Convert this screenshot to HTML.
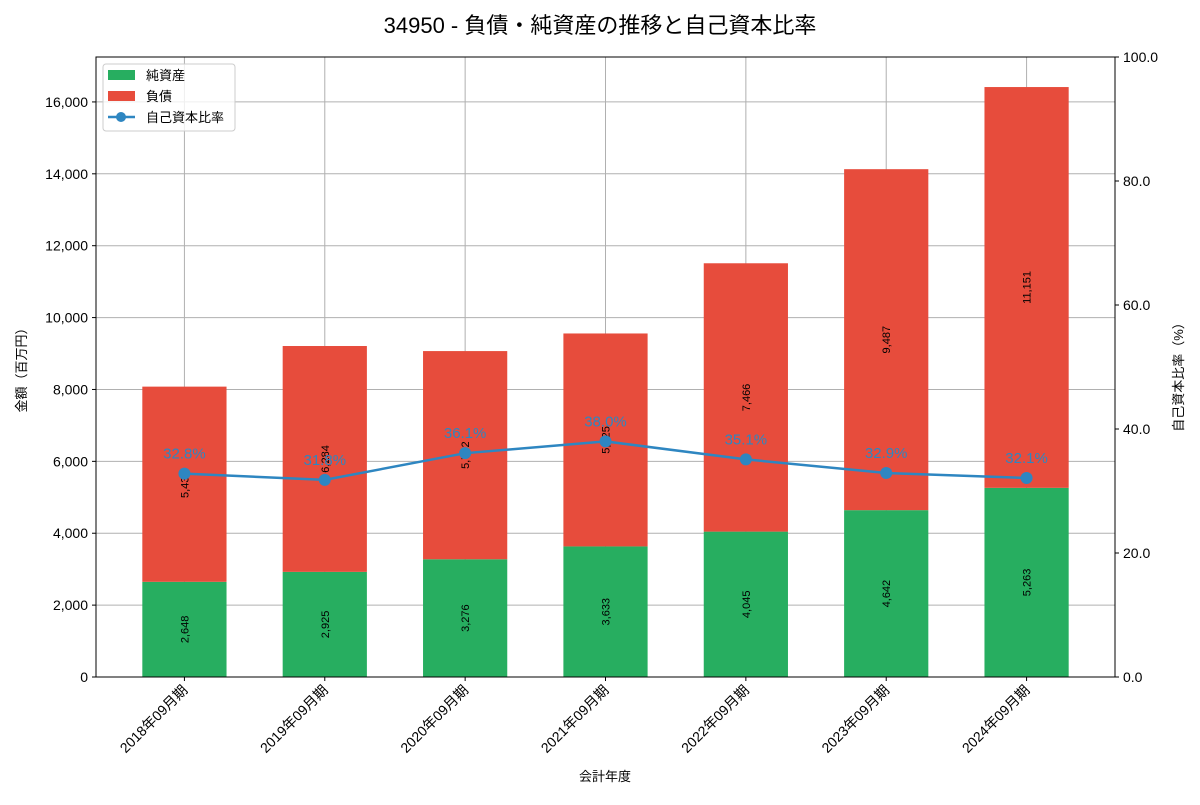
<!DOCTYPE html>
<html><head><meta charset="utf-8"><style>
body{margin:0;background:#fff;font-family:"Liberation Sans","Noto Sans CJK JP",sans-serif}
</style></head><body>
<svg id="c" width="1200" height="800" xmlns="http://www.w3.org/2000/svg" font-family="Liberation Sans, Noto Sans CJK JP, sans-serif"></svg>
<script>
const categories=["2018年09月期","2019年09月期","2020年09月期","2021年09月期","2022年09月期","2023年09月期","2024年09月期"];
const equity=[2648,2925,3276,3633,4045,4642,5263];
const liabilities=[5431,6284,5792,5925,7466,9487,11151];
const ratio=[32.8,31.8,36.1,38.0,35.1,32.9,32.1];
const yTicks=[0,2000,4000,6000,8000,10000,12000,14000,16000];
const rTicks=[0,20,40,60,80,100];
const L=96,R=1115,T=57,B=677,YMAX=17250;
const X0=-0.63,X1=6.63;
const x=i=>L+(i-X0)/(X1-X0)*(R-L);
const y=v=>B-v/YMAX*(B-T);
const yr=v=>B-v/100*(B-T);
const svg=document.getElementById('c');const NS='http://www.w3.org/2000/svg';
function el(t,a,txt){const e=document.createElementNS(NS,t);for(const k in a)e.setAttribute(k,a[k]);if(txt!=null)e.textContent=txt;svg.appendChild(e);return e;}
const fmt=v=>v.toLocaleString('en-US');
let e;
e=el('text',{x:600,y:33,'text-anchor':'middle','font-size':22},'34950 - 負債・純資産の推移と自己資本比率');


yTicks.forEach(v=>{
e=el('line',{x1:L,x2:R,y1:y(v),y2:y(v),stroke:'#b0b0b0','stroke-width':1});


e=el('line',{x1:L-4,x2:L,y1:y(v),y2:y(v),stroke:'#000'});


e=el('text',{x:L-8,y:y(v)+5,'text-anchor':'end','font-size':14},fmt(v));


});
categories.forEach((c,i)=>{
e=el('line',{x1:x(i),x2:x(i),y1:T,y2:B,stroke:'#b0b0b0','stroke-width':1});


});
const bw=0.6*(R-L)/(X1-X0);
categories.forEach((c,i)=>{
const cx=x(i);
e=el('rect',{x:cx-bw/2,y:y(equity[i]),width:bw,height:B-y(equity[i]),fill:'#27ae60'});


const tot=equity[i]+liabilities[i];
e=el('rect',{x:cx-bw/2,y:y(tot),width:bw,height:y(equity[i])-y(tot),fill:'#e74c3c'});


let my=(B+y(equity[i]))/2;
e=el('text',{x:cx+4,y:my,'text-anchor':'middle','font-size':11,transform:`rotate(-90 ${cx+4} ${my})`},fmt(equity[i]));


my=(y(equity[i])+y(tot))/2;
e=el('text',{x:cx+4,y:my,'text-anchor':'middle','font-size':11,transform:`rotate(-90 ${cx+4} ${my})`},fmt(liabilities[i]));


e=el('line',{x1:cx,x2:cx,y1:B,y2:B+4,stroke:'#000'});


e=el('text',{x:cx+4,y:B+14,'text-anchor':'end','font-size':14,transform:`rotate(-45 ${cx+4} ${B+14})`},c);


});
e=el('polyline',{points:ratio.map((r,i)=>x(i)+','+yr(r)).join(' '),fill:'none',stroke:'#2e86c1','stroke-width':2.5});


ratio.forEach((r,i)=>{
e=el('circle',{cx:x(i),cy:yr(r),r:6,fill:'#2e86c1'});


e=el('text',{x:x(i),y:yr(r)-15,'text-anchor':'middle','font-size':15,fill:'#2e86c1'},r.toFixed(1)+'%');


});
e=el('rect',{x:L,y:T,width:R-L,height:B-T,fill:'none',stroke:'#000'});


rTicks.forEach(v=>{
e=el('line',{x1:R,x2:R+4,y1:yr(v),y2:yr(v),stroke:'#000'});


e=el('text',{x:R+8,y:yr(v)+5,'font-size':14},v.toFixed(1));


});
e=el('text',{x:26,y:367,'text-anchor':'middle','font-size':13,transform:'rotate(-90 26 367)'},'金額（百万円）');


e=el('text',{x:1183,y:374,'text-anchor':'middle','font-size':13,transform:'rotate(-90 1183 374)'},'自己資本比率（%）');


e=el('text',{x:605,y:781,'text-anchor':'middle','font-size':13},'会計年度');


e=el('rect',{x:103,y:64,width:132,height:67,rx:3,fill:'#fff','fill-opacity':0.8,stroke:'#ccc'});


const leg=[['純資産','#27ae60','rect'],['負債','#e74c3c','rect'],['自己資本比率','#2e86c1','line']];
leg.forEach((l,i)=>{
const ly=75+i*21;
if(l[2]=='rect'){e=el('rect',{x:108,y:ly-5,width:27,height:10,fill:l[1]});}
else{e=el('line',{x1:108,x2:135,y1:ly,y2:ly,stroke:l[1],'stroke-width':2.5});


e=el('circle',{cx:121,cy:ly,r:5,fill:l[1]});}


e=el('text',{x:146,y:ly+5,'font-size':13},l[0]);


});
</script></body></html>
